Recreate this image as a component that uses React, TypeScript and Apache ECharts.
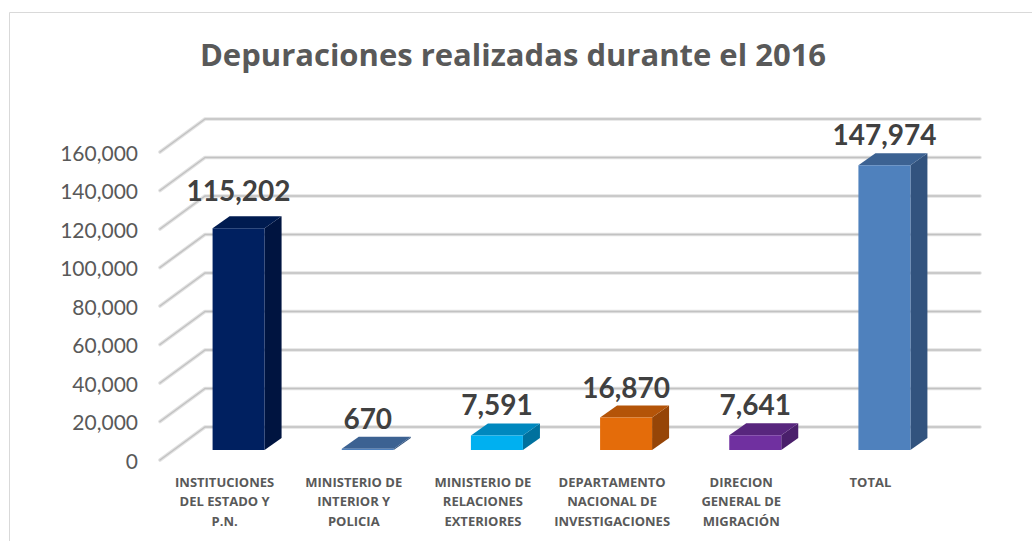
import React, { useEffect, useRef } from "react";
import * as echarts from "echarts";

const title = "Depuraciones realizadas durante el 2016";
const categories = [
  "INSTITUCIONES\nDEL ESTADO Y\nP.N.",
  "MINISTERIO DE\nINTERIOR Y\nPOLICIA",
  "MINISTERIO DE\nRELACIONES\nEXTERIORES",
  "DEPARTAMENTO\nNACIONAL DE\nINVESTIGACIONES",
  "DIRECION\nGENERAL DE\nMIGRACIÓN",
  "TOTAL",
];
const values = [115202, 670, 7591, 16870, 7641, 147974];
const yTicks = [0, 20000, 40000, 60000, 80000, 100000, 120000, 140000, 160000];

// styles
const FRONT = ["#002060", "#4F81BD", "#00B0F0", "#E46C0A", "#7030A0", "#4F81BD"];
const TOP = ["#001B50", "#3C6292", "#0088BE", "#B45408", "#58267E", "#3C6292"];
const SIDE = ["#001440", "#32537E", "#00719E", "#964507", "#4A1F6B", "#32537E"];
const LABEL_EXTRA = [7, 0, 0, 0, 0, 0];
const FONT = "Lato, 'Open Sans', sans-serif";
const FONT_OS = "'Open Sans', Lato, sans-serif";
const BAR_DEPTH = [17, -12];
const BACK = [31, -23];
const FRONTP = [-14, 10];
const BAR_HALF = 26;

const fmt = (v: number) => v.toLocaleString("en-US");

export default function App() {
  const ref = useRef<HTMLDivElement>(null);
  useEffect(() => {
    if (!ref.current) return;
    const chart = echarts.init(ref.current, undefined, { renderer: "svg" });
    const option: any = {
      animation: false,
      backgroundColor: "#ffffff",
      title: {
        text: title,
        left: 513,
        top: 38,
        padding: 0,
        textAlign: "center",
        textStyle: { fontSize: 31, fontWeight: "bold", color: "#595959", fontFamily: FONT_OS },
      },
      graphic: [
        {
          type: "rect",
          silent: true,
          z: -10,
          shape: { x: 9.5, y: 12.5, width: 1100, height: 700 },
          style: { fill: "none", stroke: "#d9d9d9", lineWidth: 1 },
        },
      ],
      grid: [
        { left: 174, top: 142, width: 775, height: 308 },
        { left: 160, top: 152, width: 775, height: 308 },
      ],
      xAxis: [
        { gridIndex: 0, type: "category", data: categories, show: false },
        {
          gridIndex: 1,
          type: "category",
          data: categories,
          axisLine: { show: false },
          axisTick: { show: false },
          axisLabel: {
            interval: 0,
            margin: 12,
            fontSize: 13,
            fontWeight: "bold",
            color: "#595959",
            lineHeight: 19.5,
            fontFamily: FONT_OS,
          },
        },
      ],
      yAxis: [
        { gridIndex: 0, type: "value", min: 0, max: 160000, interval: 20000, show: false },
        {
          gridIndex: 1,
          type: "value",
          min: 0,
          max: 160000,
          interval: 20000,
          axisLine: { show: false },
          axisTick: { show: false },
          splitLine: { show: false },
          axisLabel: { margin: 22, fontSize: 21, color: "#595959", fontFamily: FONT, formatter: fmt },
        },
      ],
      series: [
        {
          type: "custom",
          xAxisIndex: 0,
          yAxisIndex: 0,
          clip: false,
          silent: true,
          z: 1,
          data: yTicks.map((v) => [0, v]),
          renderItem: (params: any, api: any) => {
            const cs = params.coordSys;
            const y = api.coord([0, api.value(1)])[1];
            const pts = [
              [cs.x + FRONTP[0], y + FRONTP[1]],
              [cs.x + BACK[0], y + BACK[1]],
              [cs.x + cs.width + BACK[0], y + BACK[1]],
            ];
            return {
              type: "group",
              children: [
                { type: "polyline", shape: { points: pts }, style: { stroke: "#e2e2e2", lineWidth: 3.6, fill: "none", lineJoin: "round", lineCap: "round" } },
                { type: "polyline", shape: { points: pts }, style: { stroke: "#c2c2c2", lineWidth: 1.5, fill: "none", lineJoin: "round", lineCap: "round" } },
              ],
            };
          },
        },
        {
          type: "custom",
          xAxisIndex: 0,
          yAxisIndex: 0,
          clip: false,
          z: 2,
          data: values.map((v, i) => [i, v]),
          renderItem: (params: any, api: any) => {
            const i = api.value(0);
            const v = api.value(1);
            const [cx, y0] = api.coord([i, 0]);
            const y1 = api.coord([i, v])[1];
            const l = cx - BAR_HALF;
            const r = cx + BAR_HALF;
            const [dx, dy] = BAR_DEPTH;
            return {
              type: "group",
              children: [
                {
                  type: "polygon",
                  shape: { points: [[r, y1], [r + dx, y1 + dy], [r + dx, y0 + dy], [r, y0]] },
                  style: { fill: SIDE[i] },
                },
                {
                  type: "polygon",
                  shape: { points: [[l, y1], [l + dx, y1 + dy], [r + dx, y1 + dy], [r, y1]] },
                  style: { fill: TOP[i] },
                },
                {
                  type: "rect",
                  shape: { x: l, y: y1, width: r - l, height: Math.max(y0 - y1, 0.5) },
                  style: { fill: FRONT[i] },
                },
                {
                  type: "text",
                  x: cx,
                  y: y1 - 31 - LABEL_EXTRA[i],
                  style: {
                    text: fmt(v),
                    fill: "#404040",
                    fontSize: 28,
                    fontWeight: "bold",
                    fontFamily: FONT,
                    align: "center",
                    verticalAlign: "middle",
                  },
                },
              ],
            };
          },
        },
      ],
    };
    chart.setOption(option);
    return () => chart.dispose();
  }, []);
  return (
    <div
      ref={ref}
      style={{ position: "fixed", left: 0, top: 0, width: 1032, height: 541, background: "#fff" }}
    />
  );
}
